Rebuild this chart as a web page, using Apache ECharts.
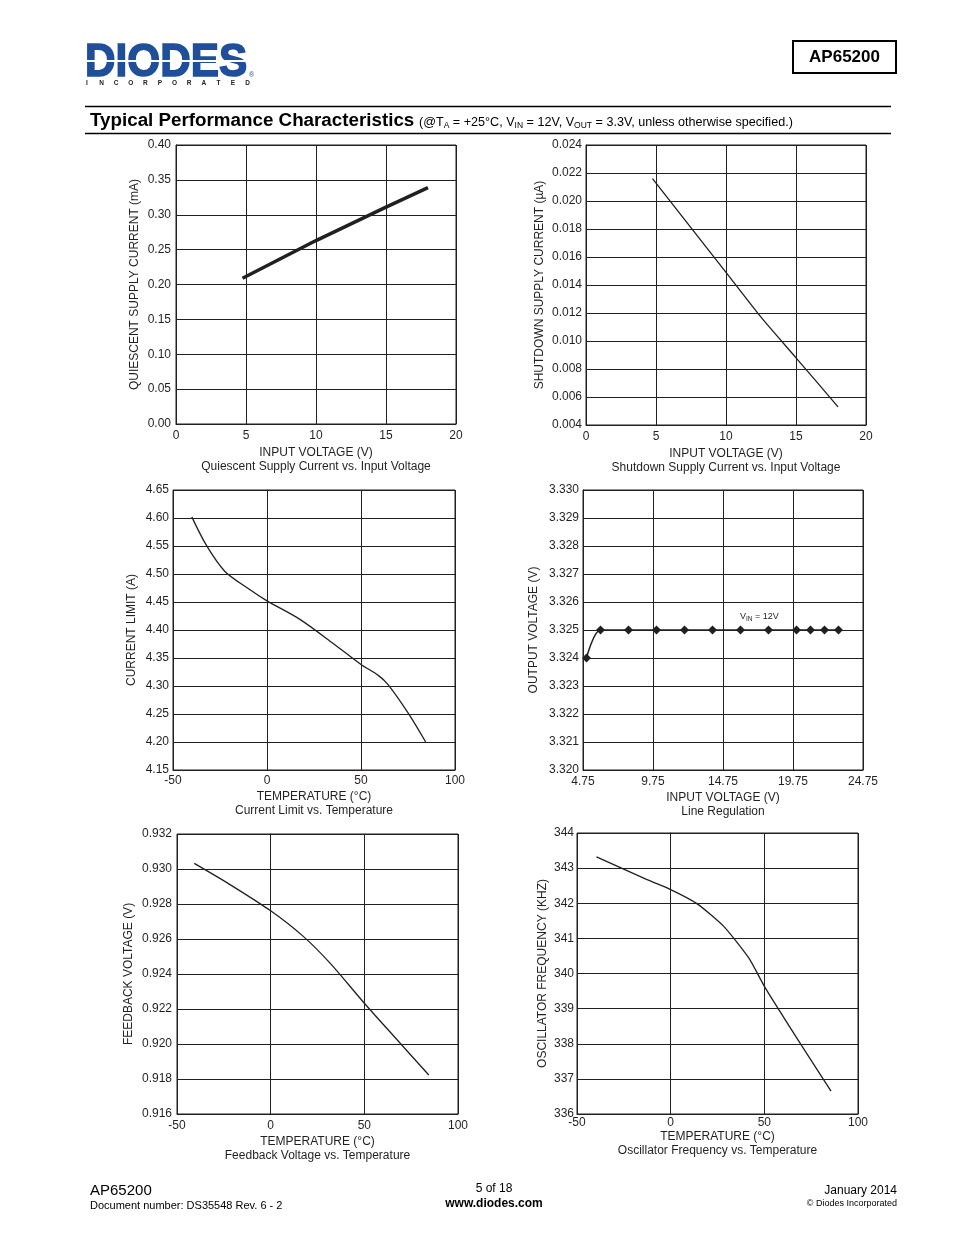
<!DOCTYPE html>
<html>
<head>
<meta charset="utf-8">
<script src="https://cdn.jsdelivr.net/npm/echarts@6/dist/echarts.min.js"></script>
<style>
html,body{margin:0;padding:0;background:#fff;}
#c{width:954px;height:1235px;}
</style>
</head>
<body>
<div id="c"></div>
<script>
// ---- Data ----
const quiescentVin = [4.75, 10, 15, 18];
const quiescentCurrent = [0.209, 0.263, 0.311, 0.339];

const shutdownVin = [4.75, 10, 12.5, 15, 18];
const shutdownCurrent = [0.0216, 0.0149, 0.0117, 0.0088, 0.0053];

const climTemp = [-40, -32.2, -22.5, -10, 0, 17.5, 35.2, 49.8, 59.2, 64.5, 75.2, 84.4];
const climCurrent = [4.602, 4.551, 4.505, 4.474, 4.452, 4.419, 4.376, 4.339, 4.319, 4.302, 4.251, 4.200];

const lineRegVin = [5, 6, 8, 10, 12, 14, 16, 18, 20, 21, 22, 23];
const lineRegVout = [3.324, 3.325, 3.325, 3.325, 3.325, 3.325, 3.325, 3.325, 3.325, 3.325, 3.325, 3.325];

const fbTemp = [-40.8, -21.7, 0, 17.4, 31.7, 50, 67, 84.4];
const fbVoltage = [0.93032, 0.92911, 0.92761, 0.92615, 0.92462, 0.92233, 0.92030, 0.91823];

const oscTemp = [-39.6, -12.9, 0, 14, 28.2, 41.6, 50.5, 70.1, 85.6];
const oscFreq = [343.32, 342.68, 342.39, 341.99, 341.35, 340.45, 339.59, 337.93, 336.65];

// axis tick settings
const xTicks = [
  {min: 0, max: 20, interval: 5, dec: 0},
  {min: 0, max: 20, interval: 5, dec: 0},
  {min: -50, max: 100, interval: 50, dec: 0},
  {min: 4.75, max: 24.75, interval: 5, dec: 2},
  {min: -50, max: 100, interval: 50, dec: 0},
  {min: -50, max: 100, interval: 50, dec: 0}
];
const yTicks = [
  {min: 0, max: 0.40, interval: 0.05, dec: 2},
  {min: 0.004, max: 0.024, interval: 0.002, dec: 3},
  {min: 4.15, max: 4.65, interval: 0.05, dec: 2},
  {min: 3.320, max: 3.330, interval: 0.001, dec: 3},
  {min: 0.916, max: 0.932, interval: 0.002, dec: 3},
  {min: 336, max: 344, interval: 1, dec: 0}
];
const xNames = [
  'INPUT VOLTAGE (V)\nQuiescent Supply Current vs. Input Voltage',
  'INPUT VOLTAGE (V)\nShutdown Supply Current vs. Input Voltage',
  'TEMPERATURE (°C)\nCurrent Limit vs. Temperature',
  'INPUT VOLTAGE (V)\nLine Regulation',
  'TEMPERATURE (°C)\nFeedback Voltage vs. Temperature',
  'TEMPERATURE (°C)\nOscillator Frequency vs. Temperature'
];
const yNames = [
  'QUIESCENT SUPPLY CURRENT (mA)',
  'SHUTDOWN SUPPLY CURRENT (µA)',
  'CURRENT LIMIT (A)',
  'OUTPUT VOLTAGE (V)',
  'FEEDBACK VOLTAGE (V)',
  'OSCILLATOR FREQUENCY (KHZ)'
];

// ---- Layout ----
const FONT = '"Liberation Sans", Arial, sans-serif';
const INK = '#231f20';
const grids = [
  {left: 176, top: 145, width: 280, height: 279},
  {left: 586, top: 145, width: 280, height: 280},
  {left: 173, top: 490, width: 282, height: 280},
  {left: 583, top: 490, width: 280, height: 280},
  {left: 177, top: 834, width: 281, height: 280},
  {left: 577, top: 833, width: 281, height: 281}
];
const xNameGap = [22, 22, 20, 21, 21, 16];
const xLabelMargin = [6, 6, 5, 6, 6, 3];
const yNameGap = [35, 40, 35, 43, 42, 28];
const yLabelMargin = [5, 4, 4, 4, 5, 3];

const chart = echarts.init(document.getElementById('c'), null, {renderer: 'canvas'});

const lineStyleAxis = {color: INK, width: 1};
const gridOpt = grids.map(g => Object.assign({show: true, borderColor: INK, borderWidth: 1, backgroundColor: 'transparent'}, g));

const xAxes = xTicks.map((t, i) => ({
  type: 'value', gridIndex: i, min: t.min, max: t.max, interval: t.interval,
  axisLine: {show: true, lineStyle: lineStyleAxis},
  axisTick: {show: false},
  splitLine: {show: true, lineStyle: lineStyleAxis},
  axisLabel: {color: INK, fontSize: 12, fontFamily: FONT, margin: xLabelMargin[i],
    formatter: v => Number(v).toFixed(t.dec)},
  name: xNames[i], nameLocation: 'middle', nameGap: xNameGap[i],
  nameTextStyle: {color: INK, fontSize: 12, fontFamily: FONT, lineHeight: 14}
}));
const yAxes = yTicks.map((t, i) => ({
  type: 'value', gridIndex: i, min: t.min, max: t.max, interval: t.interval,
  axisLine: {show: true, lineStyle: lineStyleAxis},
  axisTick: {show: false},
  splitLine: {show: true, lineStyle: lineStyleAxis},
  axisLabel: {color: INK, fontSize: 12, fontFamily: FONT, margin: yLabelMargin[i],
    formatter: v => Number(v).toFixed(t.dec)},
  name: yNames[i], nameLocation: 'middle', nameGap: yNameGap[i],
  nameTextStyle: {color: INK, fontSize: 12, fontFamily: FONT}
}));

function pairs(xs, ys) { return xs.map((x, k) => [x, ys[k]]); }

const series = [
  {type: 'line', xAxisIndex: 0, yAxisIndex: 0, data: pairs(quiescentVin, quiescentCurrent),
   showSymbol: false, lineStyle: {color: INK, width: 3.5, cap: 'butt'}},
  {type: 'line', xAxisIndex: 1, yAxisIndex: 1, data: pairs(shutdownVin, shutdownCurrent),
   showSymbol: false, smooth: 0.2, lineStyle: {color: INK, width: 1.3}},
  {type: 'line', xAxisIndex: 2, yAxisIndex: 2, data: pairs(climTemp, climCurrent),
   showSymbol: false, smooth: 0.3, lineStyle: {color: INK, width: 1.3}},
  {type: 'line', xAxisIndex: 3, yAxisIndex: 3, data: pairs(lineRegVin, lineRegVout),
   symbol: 'diamond', symbolSize: 9, showSymbol: true, smooth: 0.3,
   itemStyle: {color: INK}, lineStyle: {color: INK, width: 1.5}},
  {type: 'line', xAxisIndex: 4, yAxisIndex: 4, data: pairs(fbTemp, fbVoltage),
   showSymbol: false, smooth: 0.3, lineStyle: {color: INK, width: 1.3}},
  {type: 'line', xAxisIndex: 5, yAxisIndex: 5, data: pairs(oscTemp, oscFreq),
   showSymbol: false, smooth: 0.2, lineStyle: {color: INK, width: 1.3}}
];

// ---- Page decoration (header, footer) ----
const BLUE = '#1f4e9a';
const graphic = [];
graphic.push({type: 'text', x: 85, y: 63.5, scaleX: 0.92,
  style: {text: 'DIODES', font: 'bold 46px ' + FONT, fill: BLUE, stroke: BLUE, lineWidth: 1.6,
    align: 'left', verticalAlign: 'middle'}});
graphic.push({type: 'rect', shape: {x: 84, y: 60, width: 166, height: 2}, style: {fill: '#fff'}});
graphic.push({type: 'text', x: 249, y: 75,
  style: {text: '®', font: '7px ' + FONT, fill: BLUE, align: 'left', verticalAlign: 'middle'}});
const inc = 'INCORPORATED'.split('');
inc.forEach((ch, k) => {
  graphic.push({type: 'text', x: 87 + k * 14.6, y: 83.5,
    style: {text: ch, font: 'bold 6.5px ' + FONT, fill: '#222', align: 'center', verticalAlign: 'middle'}});
});
graphic.push({type: 'rect', shape: {x: 793, y: 41, width: 103, height: 32}, style: {fill: 'none', stroke: '#000', lineWidth: 2}});
graphic.push({type: 'text', x: 844.5, y: 57,
  style: {text: 'AP65200', font: 'bold 17px ' + FONT, fill: '#000', align: 'center', verticalAlign: 'middle'}});
graphic.push({type: 'line', shape: {x1: 85, y1: 106.5, x2: 891, y2: 106.5}, style: {stroke: '#000', lineWidth: 1.6}});
graphic.push({type: 'line', shape: {x1: 85, y1: 133.5, x2: 891, y2: 133.5}, style: {stroke: '#000', lineWidth: 1.4}});
graphic.push({type: 'text', x: 90, y: 121,
  style: {text: 'Typical Performance Characteristics', font: 'bold 18.8px ' + FONT, fill: '#000', align: 'left', verticalAlign: 'middle'}});
graphic.push({type: 'text', x: 419, y: 122.5,
  style: {
    text: '{n|(@T}{s|A}{n| = +25°C, V}{s|IN}{n| = 12V, V}{s|OUT}{n| = 3.3V, unless otherwise specified.)}',
    align: 'left', verticalAlign: 'middle',
    rich: {
      n: {fontFamily: FONT, fontSize: 12.6, fill: '#000', lineHeight: 16, verticalAlign: 'middle'},
      s: {fontFamily: FONT, fontSize: 8.5, fill: '#000', lineHeight: 16, verticalAlign: 'bottom'}
    }
  }});
// V_IN annotation in line regulation chart
graphic.push({type: 'text', x: 740, y: 617,
  style: {
    text: '{n|V}{s|IN}{n| = 12V}', align: 'left', verticalAlign: 'middle',
    rich: {
      n: {fontFamily: FONT, fontSize: 9, fill: INK, lineHeight: 12, verticalAlign: 'middle'},
      s: {fontFamily: FONT, fontSize: 6.5, fill: INK, lineHeight: 12, verticalAlign: 'bottom'}
    }
  }});
// Footer
graphic.push({type: 'text', x: 90, y: 1191,
  style: {text: 'AP65200', font: '15px ' + FONT, fill: '#000', align: 'left', verticalAlign: 'middle'}});
graphic.push({type: 'text', x: 90, y: 1206,
  style: {text: 'Document number: DS35548 Rev. 6 - 2', font: '11px ' + FONT, fill: '#000', align: 'left', verticalAlign: 'middle'}});
graphic.push({type: 'text', x: 494, y: 1189,
  style: {text: '5 of 18', font: '12px ' + FONT, fill: '#000', align: 'center', verticalAlign: 'middle'}});
graphic.push({type: 'text', x: 494, y: 1204,
  style: {text: 'www.diodes.com', font: 'bold 12px ' + FONT, fill: '#000', align: 'center', verticalAlign: 'middle'}});
graphic.push({type: 'text', x: 897, y: 1191,
  style: {text: 'January 2014', font: '12px ' + FONT, fill: '#000', align: 'right', verticalAlign: 'middle'}});
graphic.push({type: 'text', x: 897, y: 1204,
  style: {text: '© Diodes Incorporated', font: '9px ' + FONT, fill: '#000', align: 'right', verticalAlign: 'middle'}});

chart.setOption({
  animation: false,
  backgroundColor: '#fff',
  textStyle: {fontFamily: FONT},
  grid: gridOpt,
  xAxis: xAxes,
  yAxis: yAxes,
  series: series,
  graphic: graphic
});
</script>
</body>
</html>
